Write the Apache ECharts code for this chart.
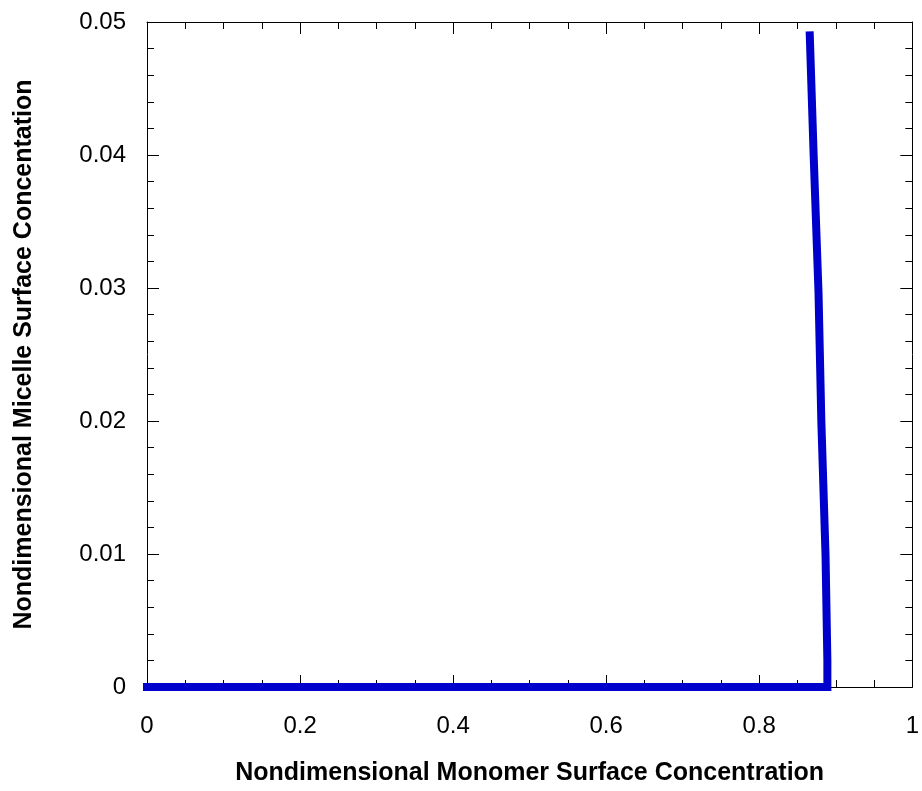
<!DOCTYPE html>
<html>
<head>
<meta charset="utf-8">
<script src="https://cdn.jsdelivr.net/npm/echarts@6/dist/echarts.min.js"></script>
<style>
  html, body { margin: 0; padding: 0; background: #fff; }
  #chart { width: 922px; height: 791px; }
</style>
</head>
<body>
<div id="chart"></div>
<script>
// Monomer vs. micelle surface concentration (nondimensional)
const monomer = [0, 0.2, 0.4, 0.6, 0.8, 0.889, 0.889, 0.8866, 0.8811, 0.8774, 0.871, 0.866];
const micelle = [0, 0, 0, 0, 0, 0, 0.002, 0.0099, 0.020, 0.0297, 0.0401, 0.049];

const xTicks = ['0', '0.2', '0.4', '0.6', '0.8', '1'];
const yTicks = ['0', '0.01', '0.02', '0.03', '0.04', '0.05'];

const points = monomer.map((x, i) => [x, micelle[i]]);
const font = 'Liberation Sans, Arial, sans-serif';

const chart = echarts.init(document.getElementById('chart'), null, { renderer: 'canvas' });

const axisCommon = {
  axisLine: { show: true, onZero: false, lineStyle: { color: '#000', width: 1 } },
  axisTick: { show: true, inside: true, length: 12, lineStyle: { color: '#000' } },
  minorTick: { show: true, length: 7, lineStyle: { color: '#000' } },
  splitLine: { show: false }
};

chart.setOption({
  animation: false,
  backgroundColor: '#fff',
  grid: { left: 147, right: 7, top: 22, bottom: 98, containLabel: false },
  xAxis: [
    Object.assign({}, axisCommon, {
      type: 'value', min: 0, max: 1, interval: 0.2, position: 'bottom',
      minorTick: Object.assign({}, axisCommon.minorTick, { splitNumber: 4 }),
      axisLabel: {
        color: '#000', fontFamily: font, fontSize: 24, margin: 27,
        formatter: v => xTicks[Math.round(v / 0.2)]
      },
      name: 'Nondimensional Monomer Surface Concentration',
      nameLocation: 'middle', nameGap: 74,
      nameTextStyle: { color: '#000', fontFamily: font, fontSize: 25, fontWeight: 'bold' }
    }),
    Object.assign({}, axisCommon, {
      type: 'value', min: 0, max: 1, interval: 0.2, position: 'top',
      minorTick: Object.assign({}, axisCommon.minorTick, { splitNumber: 4 }),
      axisLabel: { show: false }
    })
  ],
  yAxis: [
    Object.assign({}, axisCommon, {
      type: 'value', min: 0, max: 0.05, interval: 0.01, position: 'left',
      minorTick: Object.assign({}, axisCommon.minorTick, { splitNumber: 5 }),
      axisLabel: {
        color: '#000', fontFamily: font, fontSize: 24, margin: 21,
        padding: [6, 0, 0, 0],
        formatter: v => yTicks[Math.round(v / 0.01)]
      },
      name: 'Nondimensional Micelle Surface Concentation',
      nameLocation: 'middle', nameGap: 110, nameRotate: 90,
      nameTextStyle: { color: '#000', fontFamily: font, fontSize: 25, fontWeight: 'bold' }
    }),
    Object.assign({}, axisCommon, {
      type: 'value', min: 0, max: 0.05, interval: 0.01, position: 'right',
      minorTick: Object.assign({}, axisCommon.minorTick, { splitNumber: 5 }),
      axisLabel: { show: false }
    })
  ],
  series: [{
    type: 'line',
    xAxisIndex: 0,
    yAxisIndex: 0,
    data: points,
    showSymbol: false,
    clip: false,
    lineStyle: { color: '#0000CC', width: 8, cap: 'square', join: 'miter' }
  }]
});
</script>
</body>
</html>
